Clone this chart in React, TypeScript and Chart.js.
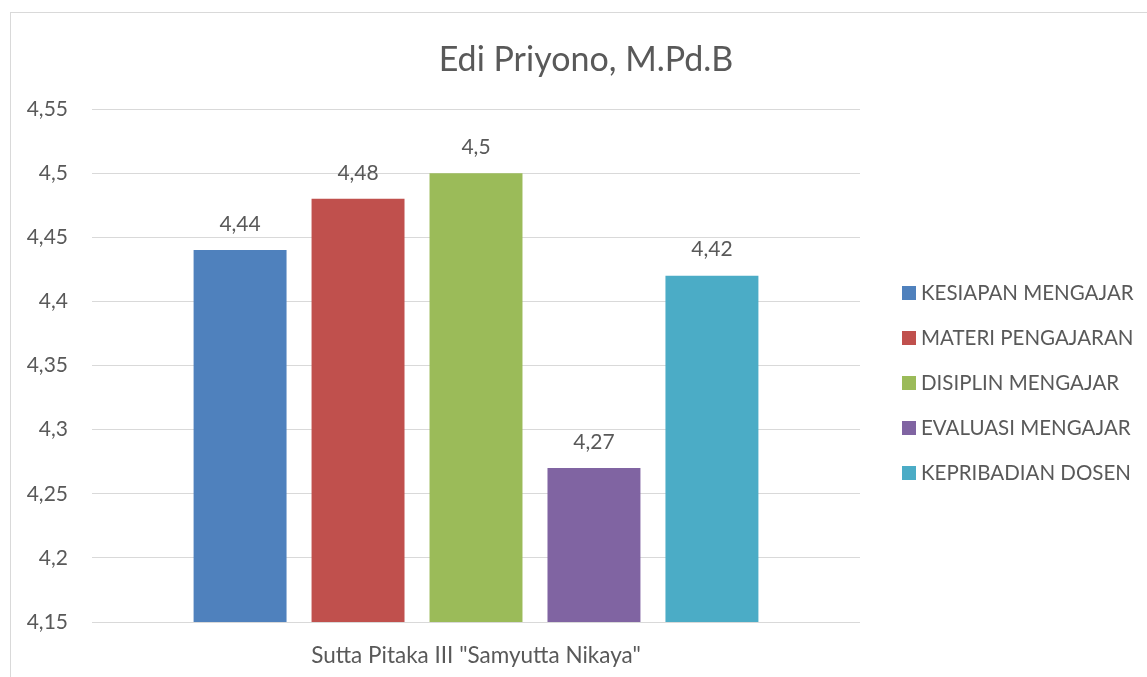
import React, { useEffect, useRef } from "react";
import { Chart, registerables } from "chart.js";
Chart.register(...registerables);

const categories = ['Sutta Pitaka III "Samyutta Nikaya"'];
const seriesNames = ["KESIAPAN MENGAJAR", "MATERI PENGAJARAN", "DISIPLIN MENGAJAR", "EVALUASI MENGAJAR", "KEPRIBADIAN DOSEN"];
const seriesValues = [4.44, 4.48, 4.5, 4.27, 4.42];
const seriesColors = ["#4F81BD", "#C0504D", "#9BBB59", "#8064A2", "#4BACC6"];
const chartTitle = "Edi Priyono, M.Pd.B";
const yMin = 4.15;
const yMax = 4.55;
const yStep = 0.05;

const FONT = "Lato, 'Open Sans', sans-serif";
const TEXT = "#595959";
const fmt = (v: number) => String(Math.round(v * 100) / 100).replace(".", ",");

const overlay = {
  id: "overlay",
  afterDatasetsDraw(chart: any) {
    const ctx = chart.ctx;
    ctx.save();
    ctx.fillStyle = TEXT;
    ctx.font = `21px ${FONT}`;
    ctx.textAlign = "center";
    ctx.textBaseline = "middle";
    chart.data.datasets.forEach((ds: any, i: number) => {
      const meta = chart.getDatasetMeta(i);
      meta.data.forEach((el: any, j: number) => {
        ctx.fillText(fmt(ds.data[j]), el.x, el.y - 26);
      });
    });
    ctx.restore();
  },
  afterDraw(chart: any) {
    const ctx = chart.ctx;
    ctx.save();
    ctx.fillStyle = TEXT;
    ctx.textAlign = "center";
    ctx.textBaseline = "middle";
    ctx.font = `34px ${FONT}`;
    ctx.fillText(chartTitle, chart.width / 2, 47);
    ctx.font = `20.5px ${FONT}`;
    ctx.textAlign = "left";
    chart.data.datasets.forEach((ds: any, i: number) => {
      const cy = 280 + i * 45;
      ctx.fillStyle = ds.backgroundColor;
      ctx.fillRect(891, cy - 7, 14, 14);
      ctx.fillStyle = TEXT;
      ctx.fillText(ds.label, 910, cy);
    });
    ctx.restore();
  },
};

export default function App() {
  const ref = useRef<HTMLCanvasElement>(null);
  useEffect(() => {
    if (!ref.current) return;
    const chart = new Chart(ref.current, {
      type: "bar",
      data: {
        labels: categories,
        datasets: seriesNames.map((name, i) => ({
          label: name,
          data: [seriesValues[i]],
          backgroundColor: seriesColors[i],
          borderWidth: 0,
          barPercentage: 0.788,
          categoryPercentage: 0.768,
        })),
      },
      options: {
        responsive: false,
        animation: false,
        layout: { padding: { top: 96, right: 301, left: 0, bottom: 0 } },
        plugins: { legend: { display: false }, title: { display: false }, tooltip: { enabled: false } },
        scales: {
          x: {
            grid: { display: false, drawTicks: false },
            border: { display: false },
            ticks: { color: TEXT, font: { family: FONT, size: 22.5 }, padding: 20 },
            afterFit: (s: any) => { s.height = 55; },
          },
          y: {
            min: yMin,
            max: yMax,
            grid: { color: "#d9d9d9", drawTicks: false, lineWidth: 1 },
            border: { display: false },
            ticks: {
              stepSize: yStep,
              color: TEXT,
              font: { family: FONT, size: 21 },
              padding: 24,
              callback: (v: any) => fmt(Number(v)),
            },
            afterFit: (s: any) => { s.width = 81; },
          },
        },
      },
      plugins: [overlay],
    });
    return () => chart.destroy();
  }, []);
  return (
    <div style={{ position: "fixed", left: 0, top: 0, width: 1147, height: 677, overflow: "hidden", background: "#fff" }}>
      <div style={{ position: "absolute", left: 10, top: 12, width: 1152, height: 700, border: "1px solid #d9d9d9", boxSizing: "border-box" }}>
        <canvas ref={ref} width={1150} height={664} style={{ position: "absolute", left: 0, top: 0, width: 1150, height: 664 }} />
      </div>
    </div>
  );
}
